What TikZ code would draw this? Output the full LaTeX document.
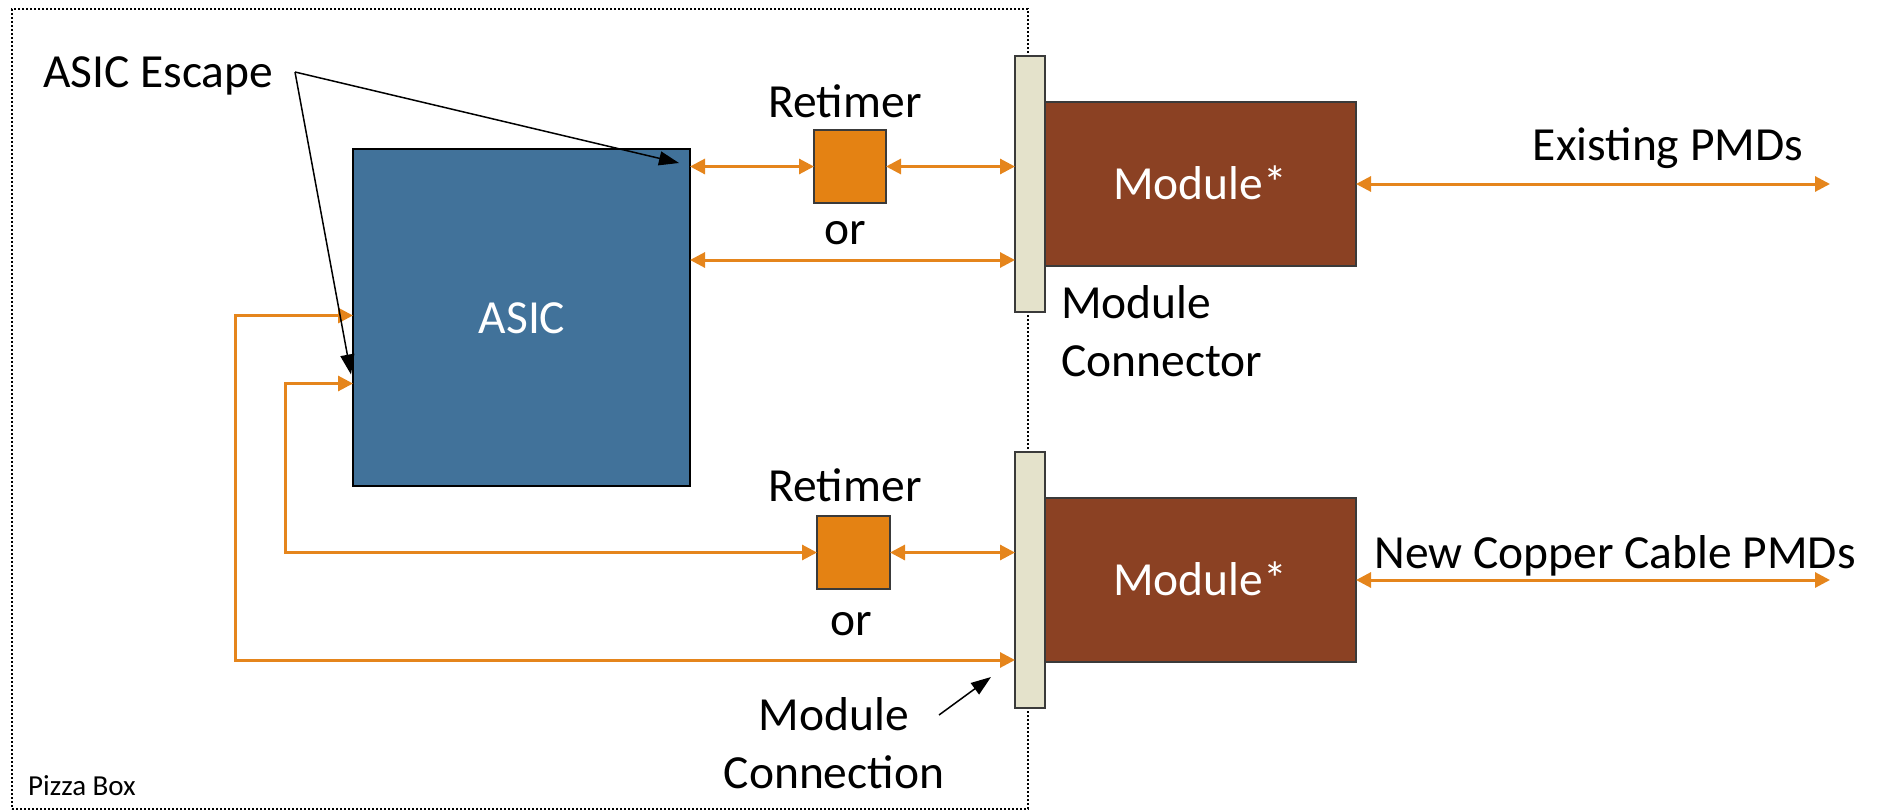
\documentclass[tikz,border=0pt]{standalone}
\usepackage{fontspec}
\setmainfont{Carlito}
\usetikzlibrary{arrows.meta,calc}

\definecolor{asicblue}{HTML}{41729A}
\definecolor{retimerorange}{HTML}{E48213}
\definecolor{linkorange}{HTML}{E5851C}
\definecolor{modbrown}{HTML}{8B4123}
\definecolor{connbeige}{HTML}{E4E2CB}
\definecolor{edgegray}{HTML}{3A3A3A}

\begin{document}
\begin{tikzpicture}[x=1pt,y=-1pt,
  box/.style={line width=1.5pt,inner sep=0pt,outer sep=0pt,anchor=north west},
  big/.style={font=\fontsize{47.5}{57.5}\selectfont},
  lbl/.style={big,inner sep=0pt,anchor=base},
  link/.style={draw=linkorange,line width=3pt,{Triangle[length=15pt,width=15pt]}-{Triangle[length=15pt,width=15pt]}},
  pointer/.style={draw=black,line width=1.5pt,-{Triangle[length=20pt,width=14pt]}},
]
\useasboundingbox (0,0) rectangle (1888,811);

% enclosure
\node[box,draw=black,line width=2pt,dash pattern=on 2pt off 2pt,minimum width=1016pt,minimum height=800pt] (pizza) at (12,9) {};
\node[anchor=base west,inner sep=0pt,font=\fontsize{29}{34}\selectfont] (pizzalbl) at (28,795) {Pizza Box};

% main blocks
\node[box,draw=black,fill=asicblue,minimum width=337pt,minimum height=337pt] (asic) at (353,149) {};
\node[lbl,text=white] at (522,333) {ASIC};

\node[box,draw=edgegray,fill=retimerorange,minimum width=72pt,minimum height=73pt] (rt1) at (814,130) {};
\node[box,draw=edgegray,fill=retimerorange,minimum width=73pt,minimum height=73pt] (rt2) at (817,516) {};

\node[box,draw=edgegray,fill=connbeige,minimum width=30pt,minimum height=256pt] (con1) at (1015,56) {};
\node[box,draw=edgegray,fill=connbeige,minimum width=30pt,minimum height=256pt] (con2) at (1015,452) {};

\node[box,draw=edgegray,fill=modbrown,minimum width=311pt,minimum height=164pt] (mod1) at (1045,102) {};
\node[box,draw=edgegray,fill=modbrown,minimum width=311pt,minimum height=164pt] (mod2) at (1045,498) {};
\node[lbl,text=white] at (1200,199) {Module*};
\node[lbl,text=white] at (1200,595) {Module*};

% labels (two-line labels are placed by the baseline of their last line)
\node[lbl] (rtl1) at (845,117) {Retimer};
\node[lbl] (or1) at (845,244) {or};
\node[lbl] (rtl2) at (845,501) {Retimer};
\node[lbl] (or2) at (851,635) {or};
\node[big,inner sep=0pt,anchor=base west,align=left] (conlbl) at (1061,376) {Module\\Connector};
\node[big,inner sep=0pt,anchor=base,align=center] (cnlbl) at (834,788) {Module\\Connection};
\node[lbl] (pmd1lbl) at (1668,160) {Existing PMDs};
\node[lbl] (pmd2lbl) at (1615,568) {New Copper Cable PMDs};
\node[big,inner sep=0pt,anchor=base west] (esclbl) at (43,87) {ASIC Escape};

% upper links
\coordinate (orlvl) at ([yshift=57.5pt]asic.east);
\draw[link] (asic.east |- rt1.west) -- (rt1.west);
\draw[link] (rt1.east) -- (con1.west |- rt1.east);
\draw[link] (orlvl) -- (con1.west |- orlvl);

% lower links
\draw[link] ([yshift=-66pt]asic.west) -- ++(-68,0) |- (rt2.west);
\draw[link] (rt2.east) -- (con2.west |- rt2.east);
\draw[link] ([yshift=2pt]asic.west) -- ++(-118,0) |- ([yshift=-80pt]con2.west);

% line side
\coordinate (pmd1) at (1830,184);
\coordinate (pmd2) at (1830,580);
\draw[link] (mod1.east) -- (pmd1);
\draw[link] (mod2.east) -- (pmd2);

% pointers
\coordinate (escsrc) at (295,72);
\draw[pointer] (escsrc) -- ([shift={(-11,14)}]asic.north east);
\draw[pointer] (escsrc) -- ([shift={(-2,57)}]asic.west);
\coordinate (cnsrc) at (939,715);
\draw[pointer] (cnsrc) -- ([shift={(-24,-31)}]con2.south west);
\end{tikzpicture}
\end{document}
